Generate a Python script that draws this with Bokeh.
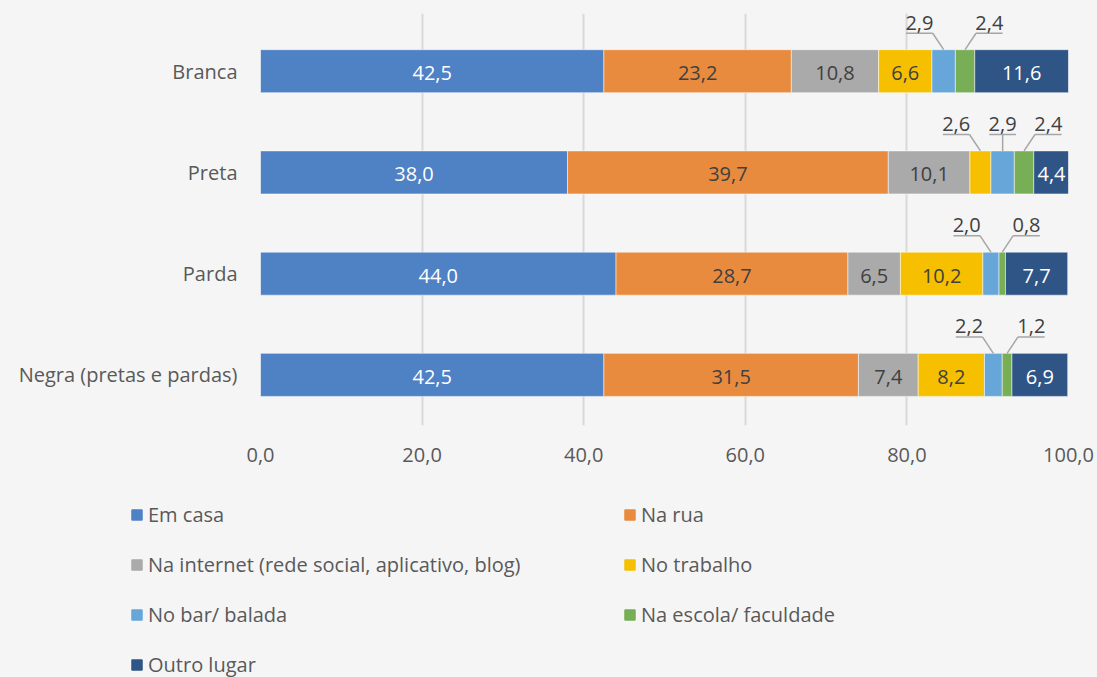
from bokeh.plotting import figure
from bokeh.layouts import column
from bokeh.models import ColumnDataSource, FixedTicker, Legend, LegendItem
from bokeh.embed import file_html
from bokeh.resources import INLINE
from bokeh.core.properties import value

# ---------------- data ----------------
categories = ["Negra (pretas e pardas)", "Parda", "Preta", "Branca"]
series_names = [
    "Em casa",
    "Na rua",
    "Na internet (rede social, aplicativo, blog)",
    "No trabalho",
    "No bar/ balada",
    "Na escola/ faculdade",
    "Outro lugar",
]
em_casa = [42.5, 44.0, 38.0, 42.5]
na_rua = [31.5, 28.7, 39.7, 23.2]
na_internet = [7.4, 6.5, 10.1, 10.8]
no_trabalho = [8.2, 10.2, 2.6, 6.6]
no_bar = [2.2, 2.0, 2.9, 2.9]
na_escola = [1.2, 0.8, 2.4, 2.4]
outro_lugar = [6.9, 7.7, 4.4, 11.6]
x_ticks = [0, 20, 40, 60, 80, 100]
x_tick_labels = ["0,0", "20,0", "40,0", "60,0", "80,0", "100,0"]

# ---------------- style ----------------
BG = "#f5f5f5"
FONT = "Open Sans"
TXT = "#595959"
colors = ["#4f81c5", "#e88b3e", "#aaaaaa", "#f6c000", "#67a6d8", "#77ae56", "#2f5486"]
label_colors = ["white", "#404040", "#404040", "#404040", "#404040", "#404040", "white"]
BAR_H = 0.425
INSIDE_MIN = 4.0
CALLOUT_DX = 3.0
UNDER_HALF = 1.65
UNDER_DY = 0.375
TEXT_DY = 0.41
TOP_PAD = 0.07  # extra room above the top row so its callout labels are not clipped

keys = ["em_casa", "na_rua", "na_internet", "no_trabalho", "no_bar", "na_escola", "outro_lugar"]
series = [em_casa, na_rua, na_internet, no_trabalho, no_bar, na_escola, outro_lugar]
ys = list(range(len(categories)))

data = {"y": ys}
for k, s in zip(keys, series):
    data[k] = s
source = ColumnDataSource(data)

p = figure(
    width=1097, height=490,
    x_range=(0, 100), y_range=(-0.5, len(categories) - 0.5 + TOP_PAD),
    output_backend="svg", toolbar_location=None,
    min_border_left=260, min_border_right=29, min_border_top=13, min_border_bottom=65,
    background_fill_color=BG, border_fill_color=BG, outline_line_color=None,
)
p.frame_align = False

p.hbar_stack(keys, y="y", height=BAR_H, color=colors, source=source,
             line_color="white", line_alpha=0.5, line_width=1)

# inside labels and callouts
in_x, in_y, in_t, in_c = [], [], [], []
co_x, co_y, co_t = [], [], []
ul_x0, ul_x1, ul_y = [], [], []
ld_x0, ld_y0, ld_x1, ld_y1 = [], [], [], []

def fmt(v):
    return f"{v:.1f}".replace(".", ",")

for i in ys:
    cum = 0.0
    small = []
    for j, s in enumerate(series):
        v = s[i]
        mid = cum + v / 2
        if v >= INSIDE_MIN:
            in_x.append(mid); in_y.append(i); in_t.append(fmt(v)); in_c.append(label_colors[j])
        else:
            small.append((mid, v))
        cum += v
    n = len(small)
    for k, (mid, v) in enumerate(small):
        side = -1 if k == 0 else (1 if k == n - 1 else 0)
        lx = mid + side * CALLOUT_DX
        co_x.append(lx); co_y.append(i + TEXT_DY); co_t.append(fmt(v))
        ul_x0.append(lx - UNDER_HALF); ul_x1.append(lx + UNDER_HALF); ul_y.append(i + UNDER_DY)
        ld_x0.append(lx - side * UNDER_HALF); ld_y0.append(i + UNDER_DY)
        ld_x1.append(mid); ld_y1.append(i + BAR_H / 2)

p.text(x=in_x, y=in_y, text=in_t, text_color=in_c, text_font=value(FONT),
       text_font_size="20px", text_align="center", text_baseline="middle", y_offset=2)
p.segment(x0=ul_x0, y0=ul_y, x1=ul_x1, y1=ul_y, line_color="#a6a6a6", line_width=1.5)
p.segment(x0=ld_x0, y0=ld_y0, x1=ld_x1, y1=ld_y1, line_color="#a6a6a6", line_width=1.5)
p.text(x=co_x, y=co_y, text=co_t, text_color="#404040", text_font=value(FONT),
       text_font_size="20px", text_align="center", text_baseline="bottom")

# axes
p.xaxis.ticker = FixedTicker(ticks=x_ticks)
p.xaxis.major_label_overrides = {t: l for t, l in zip(x_ticks, x_tick_labels)}
p.yaxis.ticker = FixedTicker(ticks=ys)
p.yaxis.major_label_overrides = {i: c for i, c in zip(ys, categories)}
for ax in (p.xaxis, p.yaxis):
    ax.axis_line_color = None
    ax.major_tick_line_color = None
    ax.minor_tick_line_color = None
    ax.major_label_text_font = FONT
    ax.major_label_text_font_size = "20px"
    ax.major_label_text_color = TXT
p.xaxis.major_label_standoff = 16
p.yaxis.major_label_standoff = 17

p.xgrid.ticker = FixedTicker(ticks=x_ticks)
p.xgrid.grid_line_color = "#d9d9d9"
p.xgrid.grid_line_width = 2
p.ygrid.grid_line_color = None

# ---------------- legend (separate strip below) ----------------
pl = figure(
    width=1097, height=187, x_range=(0, 1), y_range=(0, 1),
    output_backend="svg", toolbar_location=None,
    x_axis_location=None, y_axis_location=None,
    min_border=0, background_fill_color=BG, border_fill_color=BG, outline_line_color=None,
)
pl.frame_align = False
pl.xgrid.visible = False
pl.ygrid.visible = False
# hidden swatch renderers (drawn outside the visible range) used only for the legend glyphs
leg_renderers = [pl.hbar(y=[5], left=[5], right=[6], height=1, fill_color=c, line_color=c)
                 for c in colors]

legend = Legend(
    items=[LegendItem(label=n, renderers=[r]) for n, r in zip(series_names, leg_renderers)],
    location=(130, -1), orientation="horizontal", ncols=2,
    label_text_font=FONT, label_text_font_size="20px", label_text_color=TXT,
    glyph_width=13, glyph_height=13, label_standoff=5, label_width=452, label_height=26,
    spacing=23, padding=0, margin=0, border_line_color=None, background_fill_alpha=0,
)
pl.add_layout(legend)

layout = column(p, pl, spacing=0, styles={"background-color": BG})
html = file_html(layout, INLINE)
open("out.html", "w").write(html)
